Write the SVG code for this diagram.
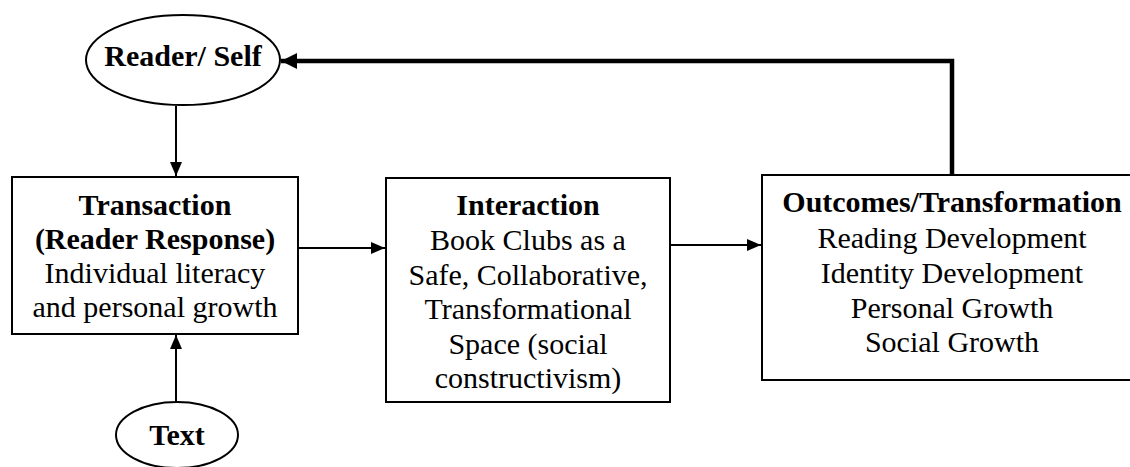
<svg xmlns="http://www.w3.org/2000/svg" width="1130" height="467" viewBox="0 0 1130 467">
<style>
.shape{fill:#fff;stroke:#000;stroke-width:2}
.t{font-family:"Liberation Serif","Times New Roman",serif;font-size:30px;fill:#000;text-anchor:middle}
.b{font-weight:bold}
.c{fill:none;stroke:#000;stroke-width:2}
.thick{fill:none;stroke:#000;stroke-width:4.5}
</style>
<defs>
<marker id="ah" viewBox="0 0 14 12" refX="14" refY="6" markerWidth="14" markerHeight="12" markerUnits="userSpaceOnUse" orient="auto">
<path d="M0,0 L14,6 L0,12 Z" fill="#000"/>
</marker>
<marker id="ahb" viewBox="0 0 16 16" refX="16" refY="8" markerWidth="16" markerHeight="16" markerUnits="userSpaceOnUse" orient="auto">
<path d="M0,0 L16,8 L0,16 Z" fill="#000"/>
</marker>
</defs>
<rect width="1130" height="467" fill="#fff"/>
<g id="connectors">
<line class="c" x1="176" y1="106" x2="176" y2="176" marker-end="url(#ah)"/>
<line class="c" x1="176" y1="402" x2="176" y2="335" marker-end="url(#ah)"/>
<line class="c" x1="298" y1="248" x2="385" y2="248" marker-end="url(#ah)"/>
<line class="c" x1="670" y1="245" x2="761" y2="245" marker-end="url(#ah)"/>
<polyline class="thick" points="952,176 952,61 281,61" marker-end="url(#ahb)"/>
</g>
<g id="reader-self">
<ellipse class="shape" cx="183" cy="60" rx="97" ry="45"/>
<text class="t b" x="183" y="66">Reader/ Self</text>
</g>
<g id="text-node">
<ellipse class="shape" cx="177" cy="435" rx="61" ry="33"/>
<text class="t b" x="177" y="445">Text</text>
</g>
<g id="transaction">
<rect class="shape" x="12" y="177" width="286" height="157"/>
<text class="t b" x="155" y="215">Transaction</text>
<text class="t b" x="155" y="249">(Reader Response)</text>
<text class="t" x="155" y="283">Individual literacy</text>
<text class="t" x="155" y="317">and personal growth</text>
</g>
<g id="interaction">
<rect class="shape" x="386" y="178" width="284" height="224"/>
<text class="t b" x="528" y="215">Interaction</text>
<text class="t" x="528" y="250">Book Clubs as a</text>
<text class="t" x="528" y="285">Safe, Collaborative,</text>
<text class="t" x="528" y="319">Transformational</text>
<text class="t" x="528" y="354">Space (social</text>
<text class="t" x="528" y="388">constructivism)</text>
</g>
<g id="outcomes">
<rect class="shape" x="762" y="175" width="380" height="205"/>
<text class="t b" x="952" y="212">Outcomes/Transformation</text>
<text class="t" x="952" y="248">Reading Development</text>
<text class="t" x="952" y="283">Identity Development</text>
<text class="t" x="952" y="318">Personal Growth</text>
<text class="t" x="952" y="352">Social Growth</text>
</g>
</svg>
